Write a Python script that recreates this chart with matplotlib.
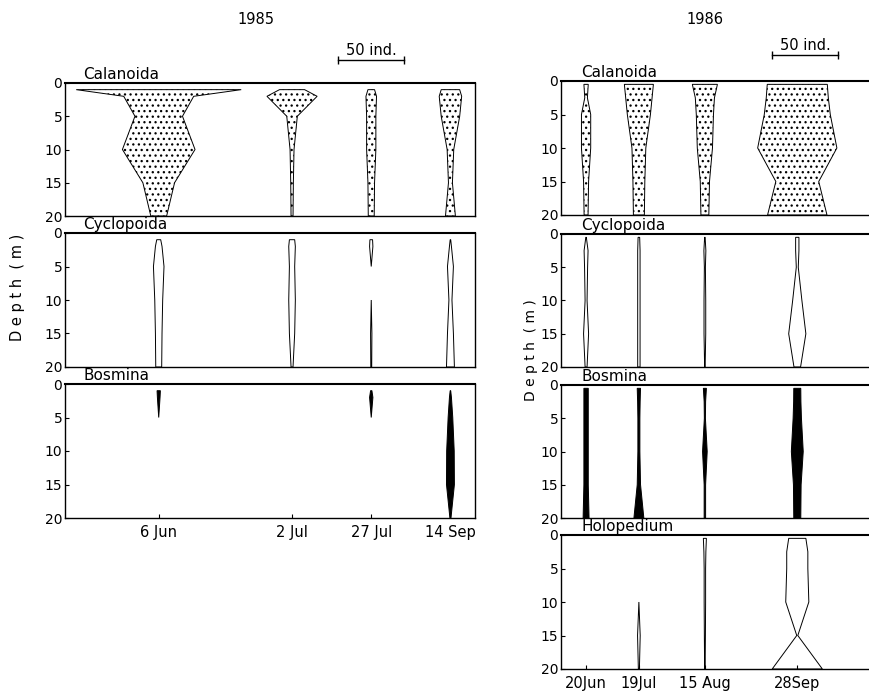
import matplotlib
matplotlib.use('Agg')
import matplotlib.pyplot as plt

# sampling depths (m)
depths85 = [1, 2, 5, 10, 15, 20]
depths86 = [0.5, 2.5, 5, 10, 15, 20]

dates85 = ['6 Jun', '2 Jul', '27 Jul', '14 Sep']
dates86 = ['20Jun', '19Jul', '15 Aug', '28Sep']
# position of each sampling date along the x axis (in ind. units)
pos85 = [71, 172, 232, 292]
pos86 = [19, 59, 109, 179]

# kite widths = number of individuals, one list per date, top to bottom
calanoida85 = [[125, 53, 36, 55, 24, 12],
               [19, 38, 8, 3, 2, 1.5],
               [5, 8, 7, 7, 5, 4.5],
               [14, 17, 14, 5, 3, 7.5]]
cyclopoida85 = [[3, 5, 8, 6, 5, 4.5],
                [4, 5, 4, 5, 4, 1.5],
                [2, 2.5, 0, 0, 1, 0.7],
                [0.4, 1.5, 4.5, 2.3, 4.5, 6]]
bosmina85 = [[2.5, 2, 0, 0, 0, 0],
             [0, 0, 0, 0, 0, 0],
             [1, 2.5, 0, 0, 0, 0],
             [0.4, 1.5, 3.5, 5.7, 6, 0.8]]

calanoida86 = [[3.3, 2, 7, 7, 3.8, 3],
               [22, 20, 17.5, 10.5, 9, 8.3],
               [19, 14.5, 13, 11.5, 7, 6],
               [45.5, 47, 50, 60, 32.5, 45]]
cyclopoida86 = [[0.4, 3, 2.3, 1.5, 3.8, 1.5],
                [1.2, 1.8, 1.8, 1.8, 1.8, 1.8],
                [0.4, 1.5, 0.8, 1.3, 1.3, 0.4],
                [2.5, 2.5, 1.5, 7, 13, 5]]
bosmina86 = [[3.3, 3.3, 3.3, 3.3, 3.3, 4.5],
             [2.5, 1.9, 1.5, 1.5, 2.5, 7.5],
             [2.3, 1.1, 0.8, 3.5, 1.1, 1.1],
             [5.3, 5.5, 6.3, 9, 5.8, 5.3]]
holopedium86 = [[0, 0, 0, 0, 0, 0],
                [0, 0, 0, 0, 2, 0.8],
                [2.3, 1.5, 1.1, 1.1, 0.8, 0.4],
                [13, 16, 16, 17.5, 0.8, 38]]

plt.rcParams['font.family'] = 'DejaVu Sans'
plt.rcParams['hatch.linewidth'] = 0.9

W, H = 870, 694
fig = plt.figure(figsize=(W / 100, H / 100), dpi=100)


def panel(left, top, w, h):
    return fig.add_axes([left / W, 1 - (top + h) / H, w / W, h / H])


def kite(ax, x0, depths, vals, style):
    # split into runs so that zero stretches leave a gap
    n = len(vals)
    i = 0
    while i < n - 1:
        if vals[i] == 0 and vals[i + 1] == 0:
            i += 1
            continue
        j = i
        while j < n - 1 and not (vals[j] == 0 and vals[j + 1] == 0):
            j += 1
        d = depths[i:j + 1]
        v = vals[i:j + 1]
        xs = [x0 - a / 2 for a in v] + [x0 + a / 2 for a in v[::-1]]
        ys = list(d) + list(d[::-1])
        if style == 'dots':
            ax.fill(xs, ys, facecolor='white', edgecolor='black', hatch='...', lw=0.7)
        elif style == 'black':
            ax.fill(xs, ys, facecolor='black', edgecolor='black', lw=0.7)
        else:
            ax.fill(xs, ys, facecolor='white', edgecolor='black', lw=0.7)
        i = j


def setup(ax, name, xmax, pos, dates, bottom, right_spine=True):
    ax.set_xlim(0, xmax)
    ax.set_ylim(20, 0)
    ax.set_yticks([0, 5, 10, 15, 20])
    ax.tick_params(axis='y', direction='in', length=3, labelsize=10, pad=2)
    for s in ax.spines.values():
        s.set_linewidth(1.0)
    ax.spines['top'].set_linewidth(1.5)
    if not right_spine:
        ax.spines['right'].set_visible(False)
    if bottom:
        ax.set_xticks(pos)
        ax.set_xticklabels(dates)
        ax.tick_params(axis='x', direction='in', length=3, labelsize=10.5, pad=5)
    else:
        ax.set_xticks([])
    ax.text(0.045 if right_spine else 0.065, 1.005, name, transform=ax.transAxes,
            fontsize=11, ha='left', va='bottom')


def scale_bar(ax, x1, y):
    ax.plot([x1, x1 + 50], [y, y], color='black', lw=1.0, clip_on=False)
    ax.plot([x1, x1 + 50], [y, y], ls='none', marker='|', ms=6, mew=1.0,
            color='black', clip_on=False)
    ax.text(x1 + 25, y - 0.3, '50 ind.', ha='center', va='bottom', fontsize=10.5)


# 1985 column
xmax85 = 410 * 50 / 66
groups85 = [('Calanoida', calanoida85, 'dots', 83, 133),
            ('Cyclopoida', cyclopoida85, 'open', 233, 134),
            ('Bosmina', bosmina85, 'black', 384, 134)]
for k, (name, data, style, top, h) in enumerate(groups85):
    ax = panel(65, top, 410, h)
    for x0, vals in zip(pos85, data):
        kite(ax, x0, depths85, vals, style)
    setup(ax, name, xmax85, pos85, dates85, k == len(groups85) - 1)
    if k == 0:
        scale_bar(ax, 207, -3.5)

# 1986 column
xmax86 = 309 * 50 / 66
groups86 = [('Calanoida', calanoida86, 'dots', 81, 134),
            ('Cyclopoida', cyclopoida86, 'open', 234, 133),
            ('Bosmina', bosmina86, 'black', 385, 133),
            ('Holopedium', holopedium86, 'open', 535, 134)]
for k, (name, data, style, top, h) in enumerate(groups86):
    ax = panel(561, top, 309, h)
    for x0, vals in zip(pos86, data):
        kite(ax, x0, depths86, vals, style)
    setup(ax, name, xmax86, pos86, dates86, k == len(groups86) - 1, right_spine=False)
    if k == 0:
        scale_bar(ax, 160, -3.9)

fig.text(256 / W, 1 - 20 / H, '1985', ha='center', va='center', fontsize=10.5)
fig.text(705 / W, 1 - 20 / H, '1986', ha='center', va='center', fontsize=10.5)
fig.text(18 / W, 1 - 287 / H, 'D e p t h  ( m )', rotation=90, ha='center', va='center', fontsize=10.5)
fig.text(531 / W, 1 - 350 / H, 'D e p t h  ( m )', rotation=90, ha='center', va='center', fontsize=10)

fig.savefig('out.png', dpi=100)
